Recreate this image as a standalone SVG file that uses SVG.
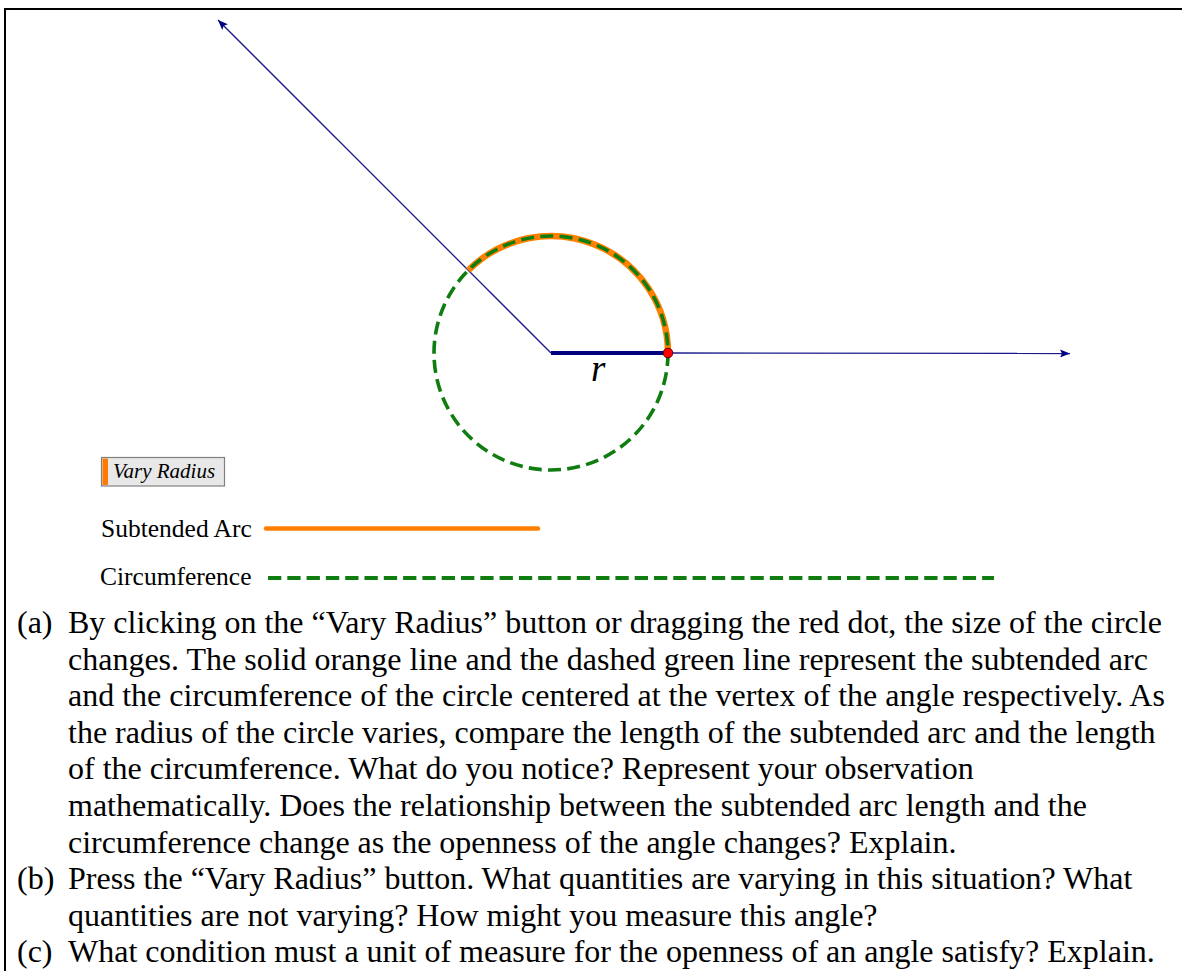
<svg xmlns="http://www.w3.org/2000/svg" width="1182" height="971" viewBox="0 0 1182 971">
<style>
.ray{stroke:#1a1a8c;stroke-width:1.3;fill:none}
.txt{font-family:"Liberation Serif","Times New Roman",serif;font-size:32px;fill:#000}
.leg{font-family:"Liberation Serif","Times New Roman",serif;font-size:25.5px;fill:#000}
.green{stroke:#0f7d0f;stroke-width:3.6;fill:none;stroke-dasharray:13 6.3;stroke-linecap:butt}
</style>
<defs>
<marker id="arr" viewBox="0 0 10 8" refX="10" refY="4" markerWidth="10" markerHeight="8" markerUnits="userSpaceOnUse" orient="auto">
<path d="M0,0 L10,4 L0,8 L2,4 Z" fill="#000080"/>
</marker>
</defs>
<rect x="0" y="0" width="1182" height="971" fill="#fff"/>
<g id="frame">
<line x1="5" y1="9" x2="1182" y2="9" stroke="#000" stroke-width="2"/>
<line x1="5" y1="8" x2="5" y2="971" stroke="#000" stroke-width="2"/>
</g>
<g id="connectors">
<line class="ray" x1="551" y1="353" x2="218" y2="20" marker-end="url(#arr)"/>
<line class="ray" x1="668" y1="353" x2="1070" y2="353.5" marker-end="url(#arr)"/>
</g>
<g id="arc">
<path d="M 668 353 A 117 117 0 0 0 468.3 270.3" stroke="#ff8000" stroke-width="6.5" fill="none"/>
</g>
<g id="circle">
<circle class="green" cx="551" cy="353" r="117"/>
</g>
<g id="radius">
<line x1="551" y1="353" x2="668" y2="353" stroke="#000080" stroke-width="4"/>
<text x="591" y="381" font-family="Liberation Serif, Times New Roman, serif" font-style="italic" font-size="37">r</text>
</g>
<g id="dot">
<circle cx="668" cy="353" r="4.8" fill="#ff0000" stroke="#600000" stroke-width="1"/>
</g>
<g id="button">
<rect x="101.5" y="457.5" width="123" height="28.5" fill="#e8e8e8" stroke="#808080" stroke-width="1.2"/>
<rect x="102.5" y="458.5" width="5.5" height="26.5" fill="#ff7a00"/>
<text x="113" y="478" font-family="Liberation Serif, Times New Roman, serif" font-style="italic" font-size="21">Vary Radius</text>
</g>
<g id="legend-arc">
<text class="leg" x="101" y="537">Subtended Arc</text>
<line x1="266" y1="528.5" x2="538" y2="528.5" stroke="#ff8000" stroke-width="4.5" stroke-linecap="round"/>
</g>
<g id="legend-circ">
<text class="leg" x="100" y="585">Circumference</text>
<line x1="268" y1="578" x2="994" y2="578" stroke="#0f7d0f" stroke-width="4" stroke-dasharray="13.3 6" stroke-linecap="butt"/>
</g>
<g id="questions" class="txt">
<text x="17" y="633">(a)</text>
<text x="68" y="633">By clicking on the “Vary Radius” button or dragging the red dot, the size of the circle</text>
<text x="68" y="669.6">changes. The solid orange line and the dashed green line represent the subtended arc</text>
<text x="68" y="706.2">and the circumference of the circle centered at the vertex of the angle respectively. As</text>
<text x="68" y="742.8">the radius of the circle varies, compare the length of the subtended arc and the length</text>
<text x="68" y="779.4">of the circumference. What do you notice? Represent your observation</text>
<text x="68" y="816">mathematically. Does the relationship between the subtended arc length and the</text>
<text x="68" y="852.6">circumference change as the openness of the angle changes? Explain.</text>
<text x="17" y="889.2">(b)</text>
<text x="68" y="889.2">Press the “Vary Radius” button. What quantities are varying in this situation? What</text>
<text x="68" y="925.8">quantities are not varying? How might you measure this angle?</text>
<text x="17" y="962.4">(c)</text>
<text x="68" y="962.4">What condition must a unit of measure for the openness of an angle satisfy? Explain.</text>
</g>
</svg>
